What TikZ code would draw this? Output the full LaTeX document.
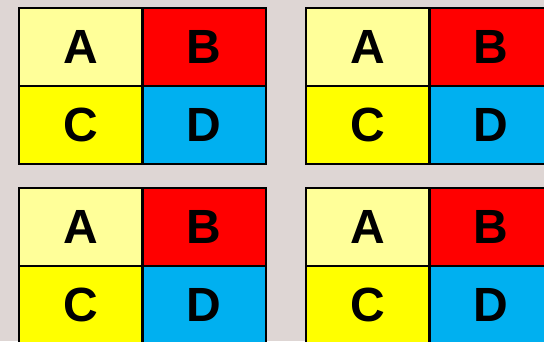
\documentclass[tikz,border=0pt]{standalone}
\usepackage{fontspec}
\setmainfont{Liberation Sans}
\definecolor{bgcol}{RGB}{222,214,212}
\definecolor{ca}{RGB}{255,255,153}
\definecolor{cb}{RGB}{255,0,0}
\definecolor{cc}{RGB}{255,255,0}
\definecolor{cd}{RGB}{0,176,240}
\begin{document}
\begin{tikzpicture}[x=1pt,y=-1pt,
  cell/.style={draw=black,line width=2.5pt,minimum width=123.5pt,minimum height=78pt,
    inner sep=0pt,outer sep=0pt,font=\fontsize{48}{48}\selectfont\bfseries}]
\useasboundingbox (0,0) rectangle (544,341);
\clip (0,0) rectangle (544,341);
\fill[bgcol] (0,0) rectangle (544,341);
\foreach \gx/\gy/\n in {19/8/1,306/8/2,19/188/3,306/188/4}{
  \node[cell,fill=ca,anchor=north west] (A\n) at (\gx,\gy) {A};
  \node[cell,fill=cb,anchor=west] (B\n) at (A\n.east) {B};
  \node[cell,fill=cc,anchor=north] (C\n) at (A\n.south) {C};
  \node[cell,fill=cd,anchor=north] (D\n) at (B\n.south) {D};
}
\end{tikzpicture}
\end{document}
